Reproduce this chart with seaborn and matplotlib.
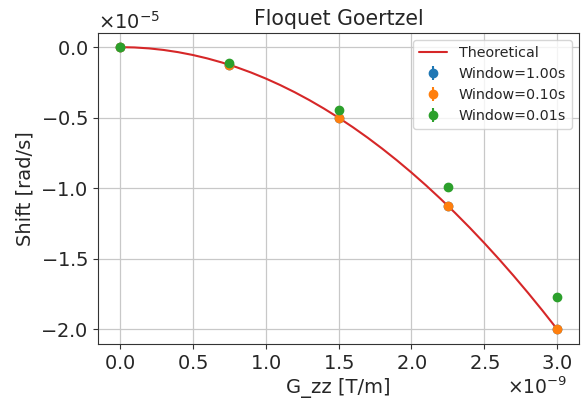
import matplotlib
matplotlib.use("Agg")
import matplotlib.pyplot as plt
import seaborn as sns
import numpy as np
import pandas as pd

# Data (x in units of 1e-9 T/m, y in units of 1e-5 rad/s)
theory_x = [0.0, 0.1, 0.2, 0.3, 0.4, 0.5, 0.6, 0.7, 0.8, 0.9, 1.0,
            1.1, 1.2, 1.3, 1.4, 1.5, 1.6, 1.7, 1.8, 1.9, 2.0,
            2.1, 2.2, 2.3, 2.4, 2.5, 2.6, 2.7, 2.8, 2.9, 3.0]
theory_y = [0.0, -0.0022, -0.0089, -0.02, -0.0356, -0.0556, -0.08, -0.1089, -0.1422, -0.18, -0.2222,
            -0.2689, -0.32, -0.3756, -0.4356, -0.5, -0.5689, -0.6422, -0.72, -0.8022, -0.8889,
            -0.98, -1.0756, -1.1756, -1.28, -1.3889, -1.5022, -1.62, -1.7422, -1.8689, -2.0]

g_x = [0.0, 0.75, 1.5, 2.25, 3.0]
win_100 = [0.0, -0.125, -0.5, -1.125, -2.0]
win_010 = [0.0, -0.127, -0.502, -1.125, -2.0]
win_001 = [0.0, -0.115, -0.444, -0.995, -1.772]
err_100 = [0.0, 0.005, 0.005, 0.005, 0.005]
err_010 = [0.0, 0.005, 0.005, 0.005, 0.005]
err_001 = [0.0, 0.005, 0.005, 0.005, 0.005]

series = [("Window=1.00s", win_100, err_100, "#1f77b4"),
          ("Window=0.10s", win_010, err_010, "#ff7f0e"),
          ("Window=0.01s", win_001, err_001, "#2ca02c")]

sns.set_style("ticks")
plt.rcParams["font.size"] = 14

fig = plt.figure(figsize=(5.87, 4.01), dpi=100)
ax = fig.add_subplot(111)
fig.subplots_adjust(left=98/587, right=579/587, top=1-33/401, bottom=1-344/401)

df_t = pd.DataFrame({"x": np.array(theory_x) * 1e-9, "y": np.array(theory_y) * 1e-5})
sns.lineplot(data=df_t, x="x", y="y", ax=ax, color="#d62728", lw=1.5, label="Theoretical")

for name, vals, errs, col in series:
    ax.errorbar(np.array(g_x) * 1e-9, np.array(vals) * 1e-5, yerr=np.array(errs) * 1e-5,
                fmt="o", color=col, markersize=6, label=name)

ax.ticklabel_format(useMathText=True)
ax.grid(True, color="#c8c8c8", lw=0.9)
ax.set_axisbelow(True)
for s in ax.spines.values():
    s.set_color("#333333")
ax.tick_params(labelsize=14, color="#333333")
ax.yaxis.get_offset_text().set_fontsize(14)
ax.xaxis.get_offset_text().set_fontsize(13.5)
ax.xaxis.get_offset_text().set_x(0.975)

ax.set_xlabel("G_zz [T/m]", fontsize=14)
ax.set_ylabel("Shift [rad/s]", fontsize=14)
ax.set_title("Floquet Goertzel", fontsize=14.8)
ax.legend(loc="upper right", fontsize=10.3)

fig.savefig("out.png", dpi=100)
